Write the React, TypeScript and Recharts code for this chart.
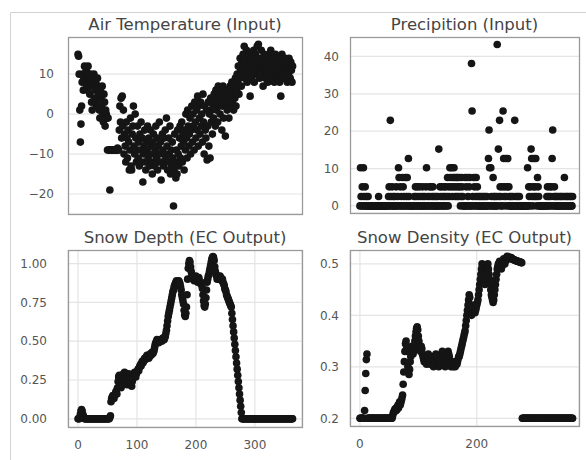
import React from 'react';
import { ScatterChart, Scatter, XAxis, YAxis, CartesianGrid } from 'recharts';

const FONT = '"DejaVu Sans", Verdana, sans-serif';

// one value per day (day = index)
const airTemp = [
  15, 14.5, 10, 1, -7, -2.5, 2, 8, 10, 6,
  9, 12, 8, 10, 11, 7, 6, 12, 9, 8,
  5, 10, 9, 3, 1, 7, 9, 10, 4, 6,
  8, 2, 3, 9, 7, 5, 1, -1, 6, 4,
  2, 7, 0, -2, 5, 3, -3, 1, 0, -1,
  -9, -1, -9, -9, -19, -9, -9, -9, -9, -9,
  -9, -9, -9, -9, -9, -9, -9, -8.5, -9, -9,
  -4, 2, -2, 4, -6, 4.5, -3, 1, -10, -5,
  -8, -12, -2, -6, -11, -4, -7, -14, -9, -1,
  -13, -14, -5, -3, 2, -8, -10, 0, -6, -12,
  -9, -3, -11, -7, -13, -5, -9, -2, -12, -6,
  -17, -10, -8, -4, -12, -14, -7, -9, -3, -11,
  -6, -13, -10, -4, -8, -12, -15, -7, -5, -10,
  -13, -9, -3, -11, -6, -14, -8, -12, -2, -10,
  -7, -16.5, -12, -5, -9, -13, -6, -10, -4, -11,
  -1, -8, -14, -12, -6, -10, -3, -15, -9, -13,
  -7, -11, -23, -14, -5, -12, -16, -9, -15, -4,
  -10, -13, -6, -3, -11, -8, -2, -12, -5, -7,
  -14, -4, -9, 0, -6, -11, 1, -3, -8, -5,
  -1, -10, -4, 2, -7, 0, -3, -9, 3, -2,
  -6, 1, -4, 4.5, -8, 2, -1, -5, 3, -3,
  0, -7, 5, -2, -10, 2, -4, -6, 1, -11.5,
  -3, 3, -8, 0, -11, 4, -2, 1, -5, 2,
  -1, 5, 3, -3, 6, 1, 4, -2, 7, 2,
  6, 0, 3, 5, -4, 2, 7, -1, 4, 3,
  -5.5, 2, 6, 1, 5, 3, -1, 4, 7, 2,
  5, 8, 3, 6, 1, 7, 4, 9, 2, 6,
  10, 8, 12, 5, 9, 14, 11, 7, 13, 10,
  15, 12, 17, 9, 13, 11, 16, 8, 14, 12,
  10, 15, 4.5, 13, 9, 11, 14, 12, 16, 8,
  12, 15, 10, 13, 17, 11, 17.5, 14, 9, 12,
  13, 16, 11, 14, 7, 10, 15, 12, 9, 13,
  11, 14, 8, 12, 15, 10, 13, 16, 9, 11,
  14, 12, 10, 8, 13, 15, 11, 9, 12, 14,
  10, 13, 8, 11, 4.5, 12, 15, 9, 13, 10,
  12, 14, 9, 11, 13, 8, 12, 10, 14, 11,
  9, 13, 11, 8, 12,
];

const precip = [
  0, 10.2, 2.5, 0, 5.1, 0, 10.2, 2.5, 0, 5.1,
  0, 2.5, 0, 0, 2.5, 0, 0, 0, 0, 0,
  0, 0, 0, 0, 0, 0, 0, 0, 0, 0,
  0, 0, 2.5, 0, 0, 0, 0, 0, 0, 0,
  0, 0, 0, 0, 0, 0, 0, 0, 0, 2.5,
  5.1, 0, 22.9, 2.5, 0, 5.1, 0, 2.5, 0, 0,
  2.5, 0, 5.1, 0, 0, 2.5, 10.2, 7.6, 0, 5.1,
  0, 2.5, 0, 7.6, 5.1, 0, 2.5, 0, 7.6, 0,
  2.5, 7.6, 0, 12.7, 2.5, 0, 0, 0, 0, 0,
  0, 0, 0, 2.5, 0, 5.1, 2.5, 0, 5.1, 0,
  2.5, 0, 5.1, 0, 2.5, 0, 0, 5.1, 2.5, 0,
  0, 2.5, 0, 5.1, 10.2, 0, 2.5, 0, 0, 5.1,
  2.5, 0, 5.1, 0, 2.5, 5.1, 0, 2.5, 0, 0,
  2.5, 0, 0, 2.5, 0, 15.2, 0, 5.1, 2.5, 0,
  5.1, 0, 2.5, 0, 5.1, 2.5, 0, 5.1, 0, 2.5,
  7.6, 0, 5.1, 2.5, 10.2, 7.6, 5.1, 10.2, 2.5, 7.6,
  5.1, 10.2, 7.6, 2.5, 5.1, 7.6, 2.5, 7.6, 5.1, 2.5,
  7.6, 5.1, 0, 2.5, 7.6, 5.1, 2.5, 0, 0, 0,
  7.6, 0, 5.1, 0, 7.6, 2.5, 0, 5.1, 7.6, 0,
  0, 38.1, 25.4, 2.5, 0, 7.6, 5.1, 0, 2.5, 7.6,
  0, 5.1, 2.5, 0, 0, 2.5, 0, 0, 2.5, 0,
  0, 2.5, 0, 0, 2.5, 0, 0, 2.5, 0, 0,
  12.7, 20.3, 10.2, 0, 10.2, 2.5, 0, 0, 7.6, 2.5,
  0, 2.5, 0, 0, 2.5, 43.2, 0, 15.2, 2.5, 22.9,
  5.1, 2.5, 0, 0, 5.1, 25.4, 12.7, 2.5, 5.1, 0,
  12.7, 2.5, 5.1, 12.7, 0, 5.1, 2.5, 0, 0, 2.5,
  0, 0, 2.5, 0, 0, 22.9, 0, 2.5, 0, 0,
  2.5, 0, 0, 2.5, 0, 0, 0, 0, 0, 0,
  0, 0, 0, 0, 0, 0, 0, 10.2, 0, 5.1,
  2.5, 0, 5.1, 15.2, 12.7, 2.5, 0, 5.1, 12.7, 2.5,
  5.1, 12.7, 2.5, 0, 7.6, 5.1, 2.5, 0, 0, 0,
  0, 0, 0, 0, 0, 0, 0, 0, 0, 0,
  2.5, 5.1, 0, 2.5, 0, 5.1, 2.5, 0, 5.1, 12.7,
  20.3, 0, 2.5, 5.1, 0, 2.5, 0, 2.5, 0, 0,
  2.5, 0, 0, 2.5, 0, 2.5, 0, 0, 2.5, 0,
  7.6, 2.5, 0, 0, 2.5, 0, 2.5, 0, 0, 2.5,
  0, 2.5, 0, 0, 2.5,
];

const snowDepth = [
  0, 0, 0, 0.01, 0.03, 0.05, 0.06, 0.05, 0.03, 0.02,
  0.01, 0, 0, 0, 0, 0, 0, 0, 0, 0,
  0, 0, 0, 0, 0, 0, 0, 0, 0, 0,
  0, 0, 0, 0, 0, 0, 0, 0, 0, 0,
  0, 0, 0, 0, 0, 0, 0, 0, 0, 0,
  0, 0, 0, 0, 0.01, 0.02, 0.11, 0.13, 0.14, 0.15,
  0.14, 0.13, 0.15, 0.16, 0.17, 0.18, 0.16, 0.2, 0.24, 0.27,
  0.28, 0.26, 0.23, 0.2, 0.22, 0.25, 0.28, 0.29, 0.27, 0.3,
  0.29, 0.26, 0.24, 0.22, 0.25, 0.27, 0.29, 0.28, 0.26, 0.24,
  0.22, 0.21, 0.24, 0.26, 0.27, 0.29, 0.3, 0.28, 0.27, 0.29,
  0.3, 0.31, 0.32, 0.31, 0.33, 0.34, 0.35, 0.34, 0.36, 0.37,
  0.36, 0.37, 0.38, 0.39, 0.38, 0.39, 0.4, 0.41, 0.4, 0.41,
  0.39, 0.4, 0.41, 0.42, 0.41, 0.42, 0.43, 0.42, 0.43, 0.44,
  0.46, 0.48, 0.49, 0.5, 0.51, 0.5, 0.5, 0.49, 0.5, 0.5,
  0.51, 0.51, 0.5, 0.51, 0.52, 0.52, 0.51, 0.52, 0.53, 0.55,
  0.57, 0.6, 0.63, 0.66, 0.68, 0.7, 0.72, 0.74, 0.76, 0.78,
  0.8, 0.82, 0.83, 0.85, 0.86, 0.87, 0.88, 0.89, 0.88, 0.87,
  0.88, 0.89, 0.88, 0.87, 0.85, 0.83, 0.8, 0.78, 0.76, 0.74,
  0.7, 0.67, 0.66, 0.68, 0.72, 0.8, 0.9, 0.97, 1.0, 1.02,
  1.01, 0.98, 0.95, 0.93, 0.92, 0.91, 0.9, 0.89, 0.9, 0.91,
  0.92, 0.9, 0.89, 0.88, 0.9, 0.91, 0.89, 0.88, 0.87, 0.88,
  0.86, 0.84, 0.8, 0.76, 0.73, 0.72, 0.74, 0.78, 0.83, 0.88,
  0.9, 0.92, 0.93, 0.95, 0.97, 0.99, 1.01, 1.03, 1.04, 1.045,
  1.04, 1.02, 0.98, 0.95, 0.93, 0.92, 0.9, 0.91, 0.92, 0.9,
  0.9, 0.92, 0.91, 0.9, 0.89, 0.9, 0.88, 0.87, 0.86, 0.84,
  0.83, 0.82, 0.8, 0.79, 0.78, 0.77, 0.76, 0.75, 0.74, 0.73,
  0.72, 0.68, 0.64, 0.6, 0.56, 0.52, 0.48, 0.44, 0.4, 0.36,
  0.32, 0.28, 0.24, 0.2, 0.16, 0.12, 0.08, 0.04, 0, 0,
  0, 0, 0, 0, 0, 0, 0, 0, 0, 0,
  0, 0, 0, 0, 0, 0, 0, 0, 0, 0,
  0, 0, 0, 0, 0, 0, 0, 0, 0, 0,
  0, 0, 0, 0, 0, 0, 0, 0, 0, 0,
  0, 0, 0, 0, 0, 0, 0, 0, 0, 0,
  0, 0, 0, 0, 0, 0, 0, 0, 0, 0,
  0, 0, 0, 0, 0, 0, 0, 0, 0, 0,
  0, 0, 0, 0, 0, 0, 0, 0, 0, 0,
  0, 0, 0, 0, 0,
];

const snowDensity = [
  0.2, 0.2, 0.2, 0.2, 0.2, 0.2, 0.2, 0.2, 0.215, 0.254,
  0.287, 0.314, 0.325, 0.2, 0.2, 0.2, 0.2, 0.2, 0.2, 0.2,
  0.2, 0.2, 0.2, 0.2, 0.2, 0.2, 0.2, 0.2, 0.2, 0.2,
  0.2, 0.2, 0.2, 0.2, 0.2, 0.2, 0.2, 0.2, 0.2, 0.2,
  0.2, 0.2, 0.2, 0.2, 0.2, 0.2, 0.2, 0.2, 0.2, 0.2,
  0.2, 0.2, 0.2, 0.2, 0.2, 0.2, 0.205, 0.21, 0.212, 0.215,
  0.218, 0.214, 0.22, 0.216, 0.222, 0.225, 0.22, 0.228, 0.232, 0.226,
  0.23, 0.235, 0.24, 0.245, 0.266, 0.29, 0.31, 0.33, 0.345, 0.35,
  0.34, 0.33, 0.3, 0.29, 0.285, 0.295, 0.31, 0.32, 0.33, 0.34,
  0.33, 0.325, 0.33, 0.34, 0.35, 0.36, 0.368, 0.375, 0.378, 0.372,
  0.36, 0.35, 0.34, 0.335, 0.33, 0.34, 0.335, 0.325, 0.32, 0.315,
  0.31, 0.315, 0.32, 0.31, 0.305, 0.31, 0.32, 0.325, 0.315, 0.31,
  0.305, 0.31, 0.315, 0.32, 0.31, 0.305, 0.3, 0.305, 0.31, 0.32,
  0.325, 0.32, 0.315, 0.31, 0.305, 0.3, 0.305, 0.31, 0.315, 0.32,
  0.325, 0.33, 0.32, 0.315, 0.31, 0.305, 0.3, 0.305, 0.31, 0.315,
  0.32, 0.33, 0.325, 0.32, 0.31, 0.305, 0.3, 0.305, 0.31, 0.305,
  0.3, 0.302, 0.305, 0.3, 0.305, 0.31, 0.305, 0.31, 0.315, 0.32,
  0.32, 0.325, 0.33, 0.335, 0.34, 0.345, 0.35, 0.355, 0.36, 0.365,
  0.37, 0.38, 0.39, 0.4, 0.41, 0.42, 0.43, 0.44, 0.435, 0.42,
  0.41, 0.4, 0.405, 0.41, 0.415, 0.42, 0.41, 0.405, 0.41, 0.415,
  0.42, 0.425, 0.43, 0.44, 0.45, 0.46, 0.47, 0.48, 0.49, 0.5,
  0.495, 0.49, 0.48, 0.47, 0.46, 0.47, 0.48, 0.49, 0.495, 0.5,
  0.49, 0.48, 0.47, 0.46, 0.45, 0.44, 0.435, 0.43, 0.425, 0.43,
  0.44, 0.45, 0.46, 0.47, 0.48, 0.49, 0.495, 0.5, 0.5, 0.505,
  0.5, 0.495, 0.49, 0.495, 0.5, 0.505, 0.51, 0.505, 0.5, 0.505,
  0.51, 0.512, 0.515, 0.514, 0.512, 0.51, 0.51, 0.512, 0.513, 0.512,
  0.51, 0.51, 0.509, 0.508, 0.508, 0.507, 0.507, 0.506, 0.506, 0.505,
  0.505, 0.505, 0.504, 0.504, 0.503, 0.503, 0.503, 0.502, 0.2, 0.2,
  0.2, 0.2, 0.2, 0.2, 0.2, 0.2, 0.2, 0.2, 0.2, 0.2,
  0.2, 0.2, 0.2, 0.2, 0.2, 0.2, 0.2, 0.2, 0.2, 0.2,
  0.2, 0.2, 0.2, 0.2, 0.2, 0.2, 0.2, 0.2, 0.2, 0.2,
  0.2, 0.2, 0.2, 0.2, 0.2, 0.2, 0.2, 0.2, 0.2, 0.2,
  0.2, 0.2, 0.2, 0.2, 0.2, 0.2, 0.2, 0.2, 0.2, 0.2,
  0.2, 0.2, 0.2, 0.2, 0.2, 0.2, 0.2, 0.2, 0.2, 0.2,
  0.2, 0.2, 0.2, 0.2, 0.2, 0.2, 0.2, 0.2, 0.2, 0.2,
  0.2, 0.2, 0.2, 0.2, 0.2, 0.2, 0.2, 0.2, 0.2, 0.2,
  0.2, 0.2, 0.2, 0.2, 0.2,
];

const dayTicks = [0, 100, 200, 300];
const densityDayTicks = [0, 200];
const tempTicks = [-20, -10, 0, 10];
const precipTicks = [0, 10, 20, 30, 40];
const depthTicks = [0, 0.25, 0.5, 0.75, 1];
const densityTicks = [0.2, 0.3, 0.4, 0.5];

const toPoints = (vals: number[]) => vals.map((v, i) => ({ day: i, value: v }));

const Dot = (props: any) => <circle cx={props.cx} cy={props.cy} r={3.8} fill="#151515" />;

const minus = (v: number) => String(v).replace('-', '\u2212');

const tickStyle = { fontSize: 12, fill: '#555', fontFamily: FONT };

type PanelProps = {
  title: string;
  data: { day: number; value: number }[];
  x: number;
  y: number;
  w: number;
  h: number;
  yWidth: number;
  gap: number;
  xDomain: number[];
  yDomain: number[];
  yTicks: number[];
  xTicks?: number[];
  yFmt: (v: number) => string;
};

function Panel(p: PanelProps) {
  const axisH = p.xTicks ? 30 : 0;
  return (
    <div style={{ position: 'absolute', left: p.x - p.yWidth, top: p.y }}>
      <ScatterChart width={p.w + p.yWidth} height={p.h + axisH} margin={{ top: 0, right: 0, bottom: 0, left: 0 }}>
        <CartesianGrid stroke="#e4e4e4" strokeWidth={1.2} vertical={!!p.xTicks} />
        <XAxis
          type="number"
          dataKey="day"
          domain={p.xDomain}
          allowDataOverflow
          ticks={p.xTicks}
          hide={!p.xTicks}
          height={axisH}
          tickLine={false}
          axisLine={false}
          tickSize={0}
          tickMargin={13}
          tick={tickStyle}
          interval={0}
        />
        <YAxis
          type="number"
          dataKey="value"
          domain={p.yDomain}
          allowDataOverflow
          ticks={p.yTicks}
          width={p.yWidth}
          tickLine={false}
          axisLine={false}
          tickSize={0}
          tickMargin={p.gap}
          tick={tickStyle}
          tickFormatter={p.yFmt}
          interval={0}
        />
        <Scatter data={p.data} shape={Dot} isAnimationActive={false} />
      </ScatterChart>
    </div>
  );
}

const panels: PanelProps[] = [
  {
    title: 'Air Temperature (Input)', data: toPoints(airTemp),
    x: 68, y: 37, w: 234, h: 177, yWidth: 60, gap: 14,
    xDomain: [-17, 380], yDomain: [-25, 19.3], yTicks: tempTicks, yFmt: minus,
  },
  {
    title: 'Precipition (Input)', data: toPoints(precip),
    x: 350, y: 37, w: 229, h: 176, yWidth: 50, gap: 11,
    xDomain: [-17, 375], yDomain: [-1.9, 45.2], yTicks: precipTicks, yFmt: minus,
  },
  {
    title: 'Snow Depth (EC Output)', data: toPoints(snowDepth),
    x: 68, y: 250, w: 234, h: 177, yWidth: 60, gap: 21,
    xDomain: [-17, 380], yDomain: [-0.053, 1.088], yTicks: depthTicks, xTicks: dayTicks,
    yFmt: (v) => v.toFixed(2),
  },
  {
    title: 'Snow Density (EC Output)', data: toPoints(snowDensity),
    x: 350, y: 250, w: 229, h: 176, yWidth: 50, gap: 11,
    xDomain: [-17, 375], yDomain: [0.185, 0.527], yTicks: densityTicks, xTicks: densityDayTicks,
    yFmt: (v) => v.toFixed(1),
  },
];

export default function App() {
  return (
    <div style={{ position: 'absolute', left: 0, top: 0, width: 586, height: 460, background: '#fff', fontFamily: FONT }}>
      {panels.map((p) => (
        <Panel key={p.title} {...p} />
      ))}
      <svg width={586} height={460} style={{ position: 'absolute', left: 0, top: 0, pointerEvents: 'none' }}>
        <line x1={10.5} y1={12.5} x2={586} y2={12.5} stroke="#d2d2d2" />
        <line x1={10.5} y1={12.5} x2={10.5} y2={460} stroke="#d2d2d2" />
        {panels.map((p) => (
          <g key={p.title}>
            <rect x={p.x + 0.5} y={p.y + 0.5} width={p.w} height={p.h} fill="none" stroke="#9a9a9a" strokeWidth={1.3} />
            <text x={p.x + p.w / 2} y={p.y - 7} textAnchor="middle" fontSize={16.5} fill="#444" fontFamily={FONT}>
              {p.title}
            </text>
          </g>
        ))}
      </svg>
    </div>
  );
}
